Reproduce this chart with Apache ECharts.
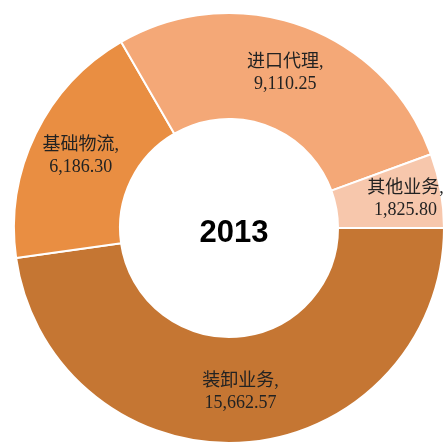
<!DOCTYPE html>
<html><head><meta charset="utf-8">
<script src="https://cdn.jsdelivr.net/npm/echarts@6/dist/echarts.min.js"></script>
<style>html,body{margin:0;padding:0;background:#fff}#c{width:446px;height:444px}</style>
</head><body><div id="c"></div>
<script>
const categories = ['装卸业务', '基础物流', '进口代理', '其他业务'];
const values = [15662.57, 6186.30, 9110.25, 1825.80];
const colors = ['#C57633', '#E98E42', '#F4A877', '#F7C7AC'];
const centerTitle = '2013';

const chart = echarts.init(document.getElementById('c'));
chart.setOption({
  animation: false,
  title: {
    text: centerTitle, left: 229, top: 228,
    textAlign: 'center', textVerticalAlign: 'middle',
    textStyle: {fontFamily: 'Liberation Sans', fontWeight: 'bold', fontSize: 31, color: '#000'}
  },
  series: [{
    type: 'pie',
    center: [229, 228],
    radius: [109, 215],
    startAngle: 0,
    clockwise: true,
    data: categories.map((n, i) => ({
      name: n, value: values[i], itemStyle: {color: colors[i]},
      label: i === 3 ? {padding: [0, 0, 0, 28]} : {}
    })),
    itemStyle: {borderColor: '#fff', borderWidth: 2},
    label: {
      position: 'inside',
      formatter: p => p.name + ',\n' + p.value.toLocaleString('en-US', {minimumFractionDigits: 2, maximumFractionDigits: 2}),
      fontFamily: '"Liberation Serif", "Noto Sans CJK SC", serif',
      fontSize: 18, lineHeight: 22, color: '#222'
    },
    labelLine: {show: false}
  }]
});
</script></body></html>
